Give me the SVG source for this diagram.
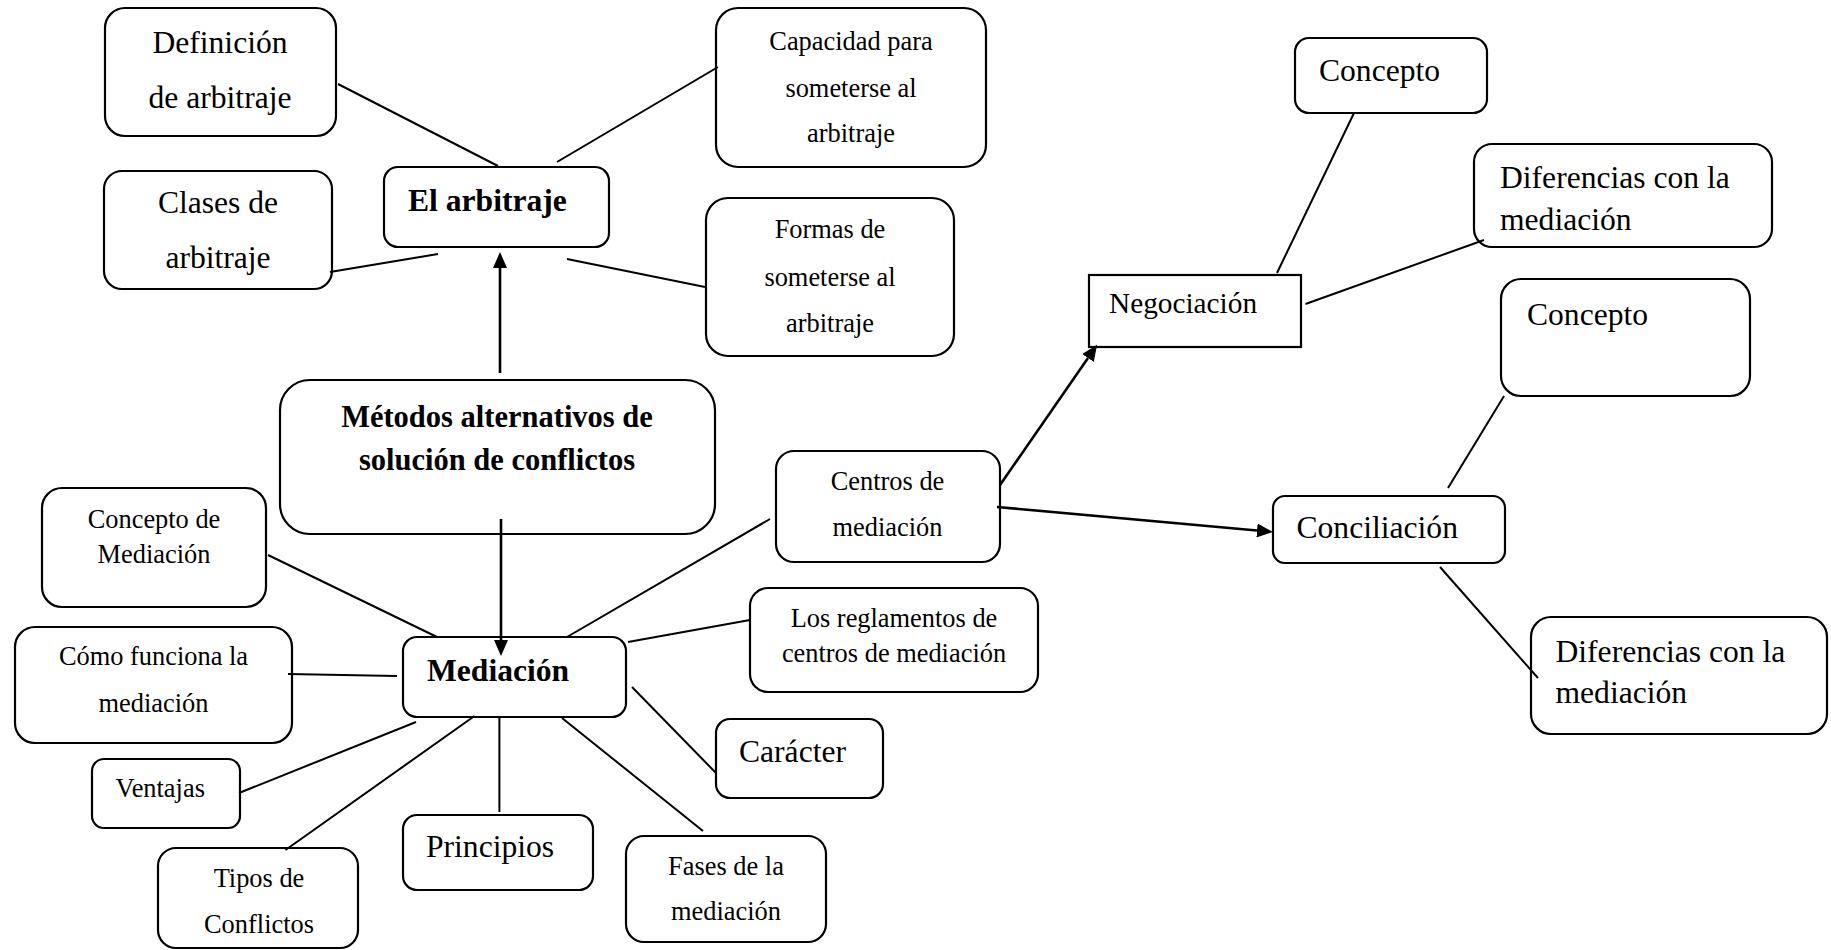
<svg xmlns="http://www.w3.org/2000/svg" width="1831" height="950" viewBox="0 0 1831 950">
<style>
.b{fill:#fff;stroke:#000;stroke-width:2.2}
.t{font-family:"Liberation Serif","Times New Roman",serif;fill:#000}
.s{font-size:26.4px}
.l{font-size:31.6px}
.bd{font-weight:bold}
.c{text-anchor:middle}
.ln{stroke:#000;stroke-width:2;fill:none}
.ar{stroke:#000;stroke-width:2.6;fill:none;marker-end:url(#ah)}
</style>
<defs>
<marker id="ah" markerUnits="userSpaceOnUse" markerWidth="16" markerHeight="14" viewBox="0 -7 16 14" refX="0" refY="0" orient="auto">
<path d="M0,-7 L16,0 L0,7 z" fill="#000"/>
</marker>
</defs>
<rect width="1831" height="950" fill="#fff"/>
<g id="definicion">
<rect class="b" x="105" y="8" width="231" height="128" rx="20"/>
<text class="t l c" x="220" y="53">Definición</text>
<text class="t l c" x="220" y="108">de arbitraje</text>
</g>
<g id="capacidad">
<rect class="b" x="716" y="8" width="270" height="159" rx="22"/>
<text class="t s c" x="851" y="50">Capacidad para</text>
<text class="t s c" x="851" y="97">someterse al</text>
<text class="t s c" x="851" y="142">arbitraje</text>
</g>
<g id="el-arbitraje">
<rect class="b" x="384" y="167" width="225" height="80" rx="14"/>
<text class="t l bd" x="408" y="211">El arbitraje</text>
</g>
<g id="clases">
<rect class="b" x="104" y="171" width="228" height="118" rx="18"/>
<text class="t l c" x="218" y="213">Clases de</text>
<text class="t l c" x="218" y="268">arbitraje</text>
</g>
<g id="formas">
<rect class="b" x="706" y="198" width="248" height="158" rx="22"/>
<text class="t s c" x="830" y="238">Formas de</text>
<text class="t s c" x="830" y="286">someterse al</text>
<text class="t s c" x="830" y="332">arbitraje</text>
</g>
<g id="metodos">
<rect class="b" x="280" y="380" width="435" height="154" rx="30"/>
<text class="t bd c" style="font-size:30.5px" x="497" y="427">Métodos alternativos de</text>
<text class="t bd c" style="font-size:30.5px" x="497" y="470">solución de conflictos</text>
</g>
<g id="concepto-mediacion">
<rect class="b" x="42" y="488" width="224" height="119" rx="20"/>
<text class="t s c" x="154" y="528">Concepto de</text>
<text class="t s c" x="154" y="563">Mediación</text>
</g>
<g id="como-funciona">
<rect class="b" x="15" y="627" width="277" height="116" rx="20"/>
<text class="t s c" x="153.5" y="665">Cómo funciona la</text>
<text class="t s c" x="153.5" y="712">mediación</text>
</g>
<g id="mediacion">
<rect class="b" x="403" y="637" width="223" height="80" rx="14"/>
<text class="t l bd" x="427" y="680.5">Mediación</text>
</g>
<g id="ventajas">
<rect class="b" x="92" y="759" width="148" height="69" rx="12"/>
<text class="t s" x="115.5" y="797">Ventajas</text>
</g>
<g id="tipos">
<rect class="b" x="158" y="848" width="200" height="100" rx="18"/>
<text class="t s c" x="259" y="887">Tipos de</text>
<text class="t s c" x="259" y="933">Conflictos</text>
</g>
<g id="principios">
<rect class="b" x="403" y="815" width="190" height="75" rx="14"/>
<text class="t l" x="426" y="857">Principios</text>
</g>
<g id="fases">
<rect class="b" x="626" y="836" width="200" height="106" rx="18"/>
<text class="t s c" x="726" y="875">Fases de la</text>
<text class="t s c" x="726" y="920">mediación</text>
</g>
<g id="caracter">
<rect class="b" x="716" y="719" width="167" height="79" rx="14"/>
<text class="t l" x="739" y="762">Carácter</text>
</g>
<g id="reglamentos">
<rect class="b" x="750" y="588" width="288" height="104" rx="18"/>
<text class="t s c" x="894" y="627">Los reglamentos de</text>
<text class="t s c" x="894" y="662">centros de mediación</text>
</g>
<g id="centros">
<rect class="b" x="776" y="451" width="224" height="111" rx="18"/>
<text class="t s c" x="887.5" y="490">Centros de</text>
<text class="t s c" x="887.5" y="536">mediación</text>
</g>
<g id="negociacion">
<rect class="b" x="1089" y="275" width="212" height="72"/>
<text class="t" style="font-size:29.3px" x="1109" y="313">Negociación</text>
</g>
<g id="concepto-negociacion">
<rect class="b" x="1295" y="38" width="192" height="75" rx="14"/>
<text class="t l" x="1319" y="81">Concepto</text>
</g>
<g id="diferencias-negociacion">
<rect class="b" x="1474" y="144" width="298" height="103" rx="18"/>
<text class="t l" x="1500" y="188">Diferencias con la</text>
<text class="t l" x="1500" y="230">mediación</text>
</g>
<g id="concepto-conciliacion">
<rect class="b" x="1501" y="279" width="249" height="117" rx="20"/>
<text class="t l" x="1527" y="325">Concepto</text>
</g>
<g id="conciliacion">
<rect class="b" x="1273" y="496" width="232" height="67" rx="12"/>
<text class="t l" x="1296.5" y="538">Conciliación</text>
</g>
<g id="diferencias-conciliacion">
<rect class="b" x="1531" y="617" width="296" height="117" rx="20"/>
<text class="t l" x="1555.5" y="662">Diferencias con la</text>
<text class="t l" x="1555.5" y="703">mediación</text>
</g>
<g id="connectors">
<line class="ln" x1="338" y1="84" x2="498" y2="166"/>
<line class="ln" x1="718" y1="67" x2="557" y2="162"/>
<line class="ln" x1="330" y1="272" x2="438" y2="254"/>
<line class="ln" x1="567" y1="259" x2="705" y2="287"/>
<path class="ar" d="M500,373 L500,268"/>
<path class="ar" d="M501,519 L501,640"/>
<line class="ln" x1="268" y1="555" x2="437" y2="637"/>
<line class="ln" x1="288" y1="674" x2="397" y2="676"/>
<line class="ln" x1="239" y1="793" x2="416" y2="722"/>
<line class="ln" x1="285.5" y1="850" x2="474.5" y2="716"/>
<line class="ln" x1="499.4" y1="717" x2="499.4" y2="812"/>
<line class="ln" x1="562" y1="718" x2="703" y2="831"/>
<line class="ln" x1="632" y1="687" x2="716" y2="773"/>
<line class="ln" x1="628" y1="642" x2="750" y2="620"/>
<line class="ln" x1="567" y1="637" x2="770" y2="519"/>
<path class="ar" d="M1000,485 L1088,358"/>
<path class="ar" d="M997,507 L1257,530.5"/>
<line class="ln" x1="1354" y1="113" x2="1277" y2="273"/>
<line class="ln" x1="1484" y1="240" x2="1305.5" y2="304"/>
<line class="ln" x1="1504" y1="396" x2="1448" y2="488"/>
<line class="ln" x1="1440" y1="567" x2="1538" y2="678"/>
</g>
</svg>
